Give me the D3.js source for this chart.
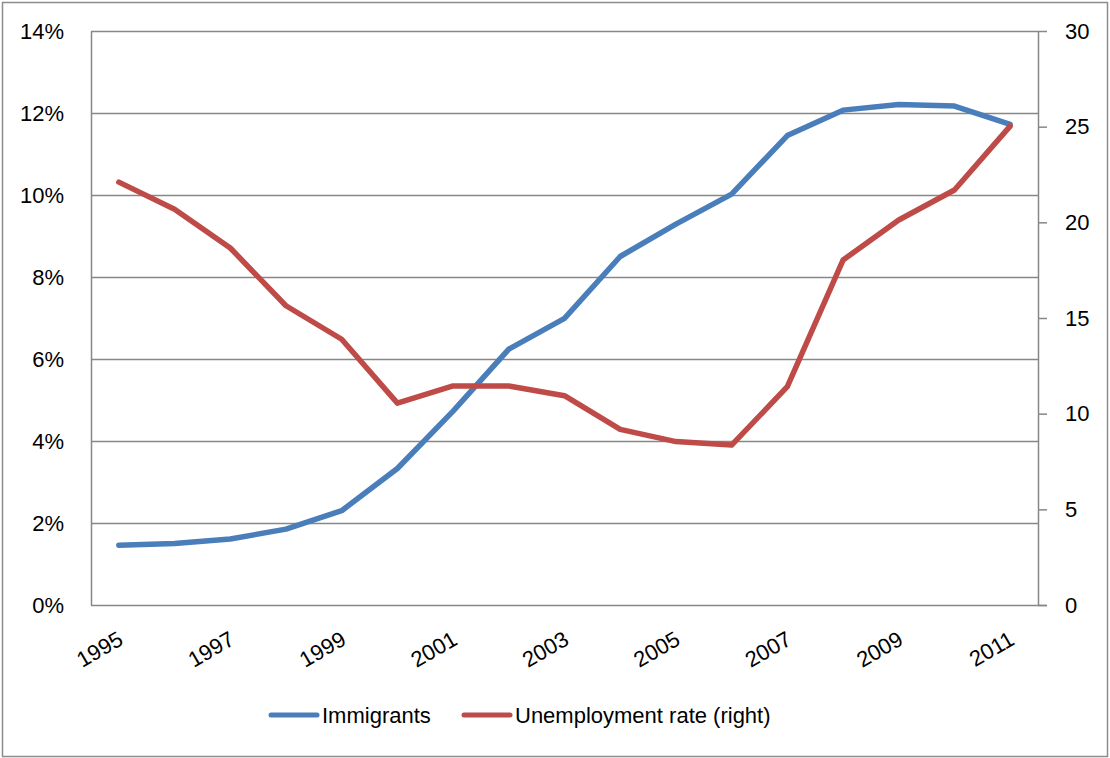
<!DOCTYPE html>
<html>
<head>
<meta charset="utf-8">
<script src="https://cdn.jsdelivr.net/npm/d3@7"></script>
<style>
  html, body { margin: 0; padding: 0; background: #fff; }
  svg { display: block; font-family: "Liberation Sans", Arial, sans-serif; }
</style>
</head>
<body>
<svg id="chart" width="1110" height="758"></svg>
<script>
// Years on the category axis
const years = [1995, 1996, 1997, 1998, 1999, 2000, 2001, 2002, 2003,
               2004, 2005, 2006, 2007, 2008, 2009, 2010, 2011];
// Share of immigrants in the population (%, left axis)
const immigrants = [1.46, 1.50, 1.61, 1.85, 2.30, 3.33, 4.73, 6.24, 6.99,
                    8.50, 9.29, 10.02, 11.45, 12.07, 12.21, 12.17, 11.72];
// Unemployment rate (%, right axis)
const unemployment = [22.1, 20.68, 18.66, 15.64, 13.89, 10.55, 11.45, 11.45, 10.94,
                      9.18, 8.54, 8.36, 11.41, 18.03, 20.12, 21.69, 25.03];
// Axis tick values
const leftTicks = [0, 2, 4, 6, 8, 10, 12, 14];
const rightTicks = [0, 5, 10, 15, 20, 25, 30];
const yearLabels = [1995, 1997, 1999, 2001, 2003, 2005, 2007, 2009, 2011];

const svg = d3.select("#chart");
const plot = { left: 91, right: 1038, top: 31, bottom: 605 };
const gridColor = "#878787";
const blue = "#4a7ebb";
const red = "#be4b48";
const fontSize = 22;
const fontFamily = "'Liberation Sans', Arial, sans-serif";

// Outer frame
svg.append("rect")
  .attr("x", 2.5).attr("y", 2.5).attr("width", 1105).attr("height", 754)
  .attr("fill", "#fff").attr("stroke", "#8c8c8c").attr("stroke-width", 1.5);

const x = d3.scalePoint().domain(years).range([plot.left, plot.right]).padding(0.5);
const yL = d3.scaleLinear().domain([0, 14]).range([plot.bottom, plot.top]);
const yR = d3.scaleLinear().domain([0, 30]).range([plot.bottom, plot.top]);

// Horizontal gridlines
svg.append("g").selectAll("line").data(leftTicks.filter(d => d > 0)).join("line")
  .attr("x1", plot.left).attr("x2", plot.right)
  .attr("y1", d => Math.round(yL(d)) + 0.5).attr("y2", d => Math.round(yL(d)) + 0.5)
  .attr("stroke", gridColor).attr("stroke-width", 1.5);

// Left axis (no tick marks)
const leftAxis = d3.axisLeft(yL).tickValues(leftTicks).tickSize(0).tickPadding(27)
  .tickFormat(d => d + "%");
const gL = svg.append("g").attr("transform", `translate(${plot.left},0)`).call(leftAxis);
gL.select(".domain").attr("stroke", gridColor).attr("stroke-width", 1.5);
gL.selectAll("text").attr("font-size", fontSize).attr("fill", "#000")
  .attr("font-family", fontFamily);

// Right axis with outward ticks
const rightAxis = d3.axisRight(yR).tickValues(rightTicks).tickSize(9).tickPadding(18)
  .tickSizeOuter(0);
const gR = svg.append("g").attr("transform", `translate(${plot.right},0)`).call(rightAxis);
gR.select(".domain").attr("stroke", gridColor).attr("stroke-width", 1.5);
gR.selectAll(".tick line").attr("stroke", gridColor).attr("stroke-width", 1.5);
gR.selectAll("text").attr("font-size", fontSize).attr("fill", "#000")
  .attr("font-family", fontFamily);

// Bottom axis line
svg.append("line")
  .attr("x1", plot.left).attr("x2", plot.right + 9)
  .attr("y1", plot.bottom + 0.5).attr("y2", plot.bottom + 0.5)
  .attr("stroke", gridColor).attr("stroke-width", 1.5);

// Rotated year labels
svg.append("g").selectAll("text").data(yearLabels).join("text")
  .attr("transform", d => `translate(${x(d) - 2},${plot.bottom + 25}) rotate(-30)`)
  .attr("text-anchor", "end")
  .attr("dy", "0.71em")
  .attr("font-size", fontSize)
  .attr("fill", "#000")
  .text(d => d);

// Series lines
const lineL = d3.line().x((d, i) => x(years[i])).y(d => yL(d));
const lineR = d3.line().x((d, i) => x(years[i])).y(d => yR(d));

svg.append("path").datum(immigrants)
  .attr("d", lineL).attr("fill", "none").attr("stroke", blue)
  .attr("stroke-width", 5.5).attr("stroke-linejoin", "round").attr("stroke-linecap", "round");

svg.append("path").datum(unemployment)
  .attr("d", lineR).attr("fill", "none").attr("stroke", red)
  .attr("stroke-width", 5.5).attr("stroke-linejoin", "round").attr("stroke-linecap", "round");

// Legend
const legendItems = [
  { label: "Immigrants", color: blue, x: 271 },
  { label: "Unemployment rate (right)", color: red, x: 464 }
];
const legend = svg.append("g");
legendItems.forEach(item => {
  legend.append("line")
    .attr("x1", item.x).attr("x2", item.x + 46)
    .attr("y1", 715).attr("y2", 715)
    .attr("stroke", item.color).attr("stroke-width", 5).attr("stroke-linecap", "round");
  legend.append("text")
    .attr("x", item.x + 51).attr("y", 715).attr("dy", "0.35em")
    .attr("font-size", fontSize).attr("fill", "#000")
    .text(item.label);
});
</script>
</body>
</html>
